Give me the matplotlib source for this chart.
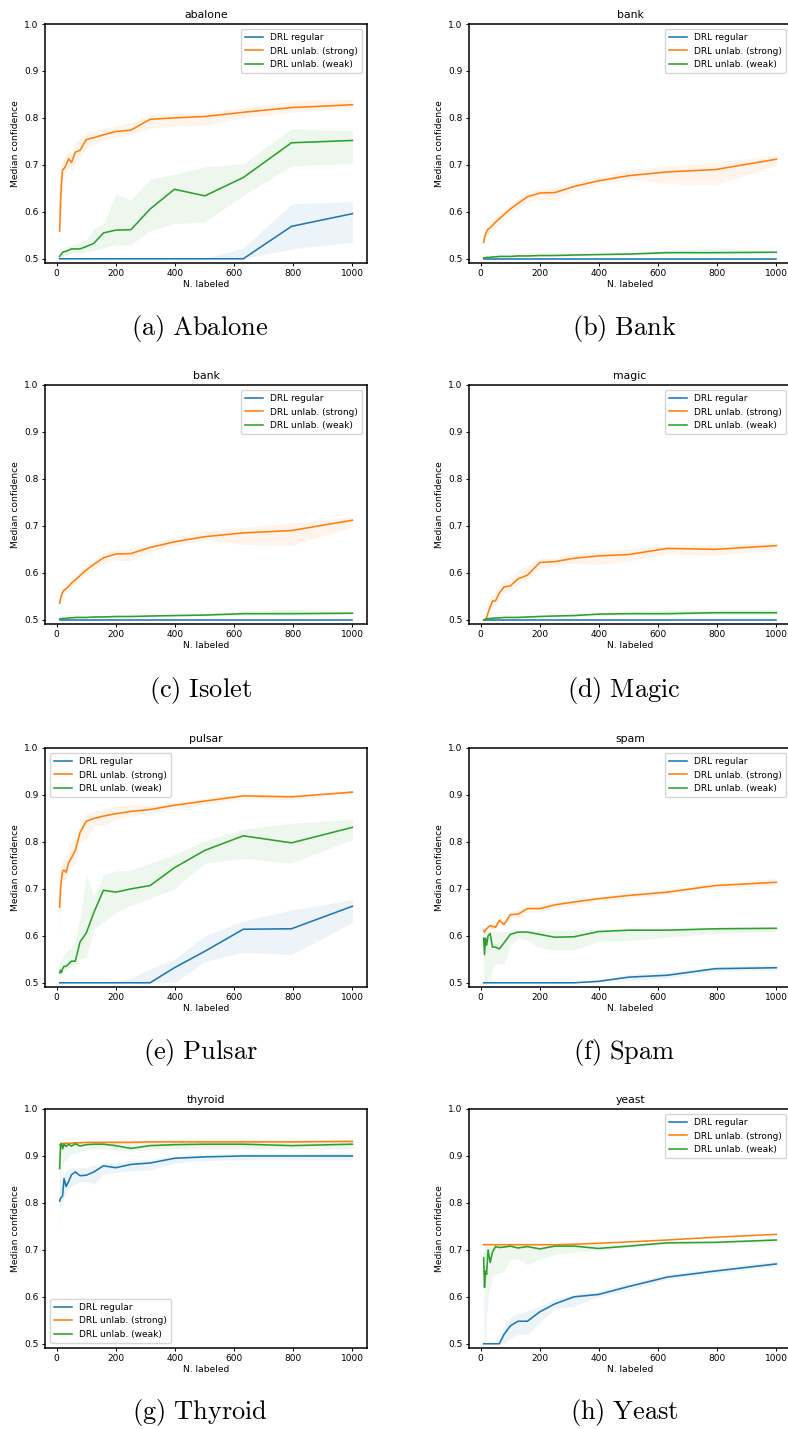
import numpy as np
import matplotlib
matplotlib.use('Agg')
import matplotlib.pyplot as plt

plt.rcParams['mathtext.fontset'] = 'cm'

n_labeled = [10, 13, 16, 20, 25, 32, 40, 50, 63, 79, 100, 126, 158, 200, 251, 316, 398, 501, 631, 794, 1000]
series_names = ['DRL regular', 'DRL unlab. (strong)', 'DRL unlab. (weak)']

# abalone
ab_reg = [.500, .500, .500, .500, .500, .500, .500, .500, .500, .500, .500, .500, .500, .500, .500, .500, .500, .500, .500, .569, .596]
ab_reg_lo = [.500, .500, .500, .500, .500, .500, .500, .500, .500, .500, .500, .500, .500, .500, .500, .500, .500, .500, .500, .521, .535]
ab_reg_hi = [.500, .500, .500, .500, .500, .500, .500, .500, .500, .500, .500, .500, .500, .500, .500, .500, .500, .501, .523, .617, .622]
ab_strong = [.559, .620, .660, .690, .692, .700, .713, .705, .727, .731, .754, .758, .764, .771, .774, .797, .800, .803, .812, .822, .828]
ab_strong_lo = [.530, .570, .620, .660, .672, .685, .695, .685, .705, .715, .735, .745, .752, .758, .765, .778, .782, .784, .800, .812, .820]
ab_strong_hi = [.580, .660, .700, .708, .715, .720, .730, .725, .750, .755, .770, .772, .778, .783, .790, .808, .810, .812, .822, .835, .840]
ab_weak = [.505, .508, .510, .514, .515, .516, .518, .521, .521, .521, .526, .533, .555, .561, .562, .606, .648, .634, .673, .747, .752]
ab_weak_lo = [.500, .502, .503, .505, .506, .507, .508, .510, .511, .512, .515, .518, .522, .530, .530, .560, .575, .578, .635, .697, .704]
ab_weak_hi = [.510, .514, .517, .520, .522, .524, .527, .530, .532, .535, .540, .565, .575, .638, .625, .670, .680, .696, .702, .777, .774]

# bank
bk_reg = [.500, .500, .500, .500, .500, .500, .500, .500, .500, .500, .500, .500, .500, .500, .500, .500, .500, .500, .500, .500, .500]
bk_strong = [.535, .545, .552, .558, .563, .566, .571, .578, .585, .594, .606, .618, .632, .640, .641, .654, .666, .677, .685, .690, .712]
bk_strong_lo = [.525, .535, .542, .548, .553, .557, .562, .568, .576, .585, .597, .607, .620, .627, .625, .645, .658, .670, .660, .658, .698]
bk_strong_hi = [.548, .556, .562, .568, .573, .576, .581, .588, .595, .604, .616, .628, .642, .650, .652, .663, .675, .690, .697, .706, .720]
bk_weak = [.502, .502, .502, .503, .503, .503, .504, .504, .505, .505, .505, .506, .506, .507, .507, .508, .509, .510, .513, .513, .514]
bk_weak_lo = [.501, .501, .501, .502, .502, .502, .503, .503, .503, .503, .503, .504, .504, .505, .505, .506, .507, .508, .510, .510, .512]
bk_weak_hi = [.503, .503, .503, .504, .504, .505, .505, .506, .506, .507, .507, .508, .508, .509, .509, .510, .511, .513, .518, .523, .515]

# magic
mg_reg = [.500, .500, .500, .500, .500, .500, .500, .500, .500, .500, .500, .500, .500, .500, .500, .500, .500, .500, .500, .500, .500]
mg_strong = [.500, .500, .502, .505, .515, .527, .540, .540, .557, .570, .572, .587, .595, .622, .624, .631, .636, .639, .652, .650, .658]
mg_strong_lo = [.498, .498, .499, .500, .505, .515, .528, .530, .545, .555, .560, .575, .585, .610, .615, .620, .617, .625, .640, .638, .648]
mg_strong_hi = [.502, .504, .508, .515, .530, .545, .552, .555, .570, .585, .590, .605, .615, .632, .632, .642, .645, .652, .660, .660, .665]
mg_weak = [.500, .500, .501, .502, .502, .503, .503, .504, .504, .505, .505, .505, .506, .507, .508, .509, .512, .513, .513, .515, .515]
mg_weak_lo = [.499, .499, .500, .500, .500, .501, .501, .502, .502, .503, .503, .503, .504, .505, .506, .507, .509, .510, .510, .511, .511]
mg_weak_hi = [.501, .501, .502, .503, .504, .505, .505, .506, .506, .507, .507, .508, .509, .510, .511, .512, .515, .517, .521, .521, .522]

# pulsar
pu_reg = [.500, .500, .500, .500, .500, .500, .500, .500, .500, .500, .500, .500, .500, .500, .500, .500, .532, .567, .614, .615, .663]
pu_reg_lo = [.500, .500, .500, .500, .500, .500, .500, .500, .500, .500, .500, .500, .500, .500, .500, .500, .500, .545, .565, .560, .628]
pu_reg_hi = [.500, .500, .500, .500, .500, .500, .500, .500, .500, .500, .500, .500, .500, .502, .510, .530, .550, .600, .632, .655, .677]
pu_strong = [.661, .700, .720, .738, .740, .735, .755, .766, .782, .820, .844, .850, .855, .860, .865, .869, .878, .887, .898, .896, .906]
pu_strong_lo = [.600, .660, .700, .715, .720, .720, .740, .750, .755, .800, .805, .835, .835, .848, .855, .860, .870, .880, .892, .890, .903]
pu_strong_hi = [.740, .755, .760, .765, .770, .760, .790, .800, .810, .840, .860, .865, .870, .875, .880, .878, .885, .893, .903, .900, .910]
pu_weak = [.521, .527, .522, .530, .535, .535, .540, .546, .546, .587, .606, .650, .697, .693, .700, .707, .745, .782, .813, .798, .831]
pu_weak_lo = [.510, .515, .515, .520, .525, .528, .530, .535, .535, .550, .555, .615, .630, .650, .665, .680, .700, .755, .765, .755, .805]
pu_weak_hi = [.545, .548, .550, .555, .560, .565, .570, .575, .590, .640, .730, .685, .730, .738, .740, .755, .773, .803, .827, .840, .848]

# spam
sp_reg = [.500, .500, .500, .500, .500, .500, .500, .500, .500, .500, .500, .500, .500, .500, .500, .500, .503, .512, .516, .530, .532]
sp_reg_lo = [.500, .500, .500, .500, .500, .500, .500, .500, .500, .500, .500, .500, .500, .500, .500, .500, .500, .505, .510, .525, .527]
sp_reg_hi = [.500, .500, .500, .500, .500, .500, .500, .500, .500, .500, .500, .500, .500, .500, .500, .501, .507, .518, .522, .535, .538]
sp_strong = [.611, .608, .612, .615, .618, .622, .620, .618, .633, .624, .645, .646, .658, .658, .666, .672, .679, .686, .693, .707, .714]
sp_strong_lo = [.606, .603, .606, .609, .612, .615, .614, .612, .625, .617, .638, .640, .650, .650, .660, .666, .673, .680, .688, .702, .707]
sp_strong_hi = [.616, .613, .618, .621, .624, .628, .626, .625, .640, .632, .652, .655, .667, .668, .672, .678, .685, .692, .699, .712, .722]
sp_weak = [.595, .560, .595, .580, .600, .605, .576, .576, .572, .585, .603, .608, .608, .603, .597, .598, .609, .612, .612, .615, .616]
sp_weak_lo = [.500, .500, .500, .500, .510, .500, .530, .540, .540, .540, .580, .595, .590, .575, .570, .570, .588, .590, .597, .605, .610]
sp_weak_hi = [.610, .610, .610, .610, .610, .610, .610, .610, .610, .610, .610, .612, .612, .612, .612, .613, .614, .615, .616, .618, .620]

# thyroid
th_reg = [.804, .810, .812, .815, .852, .835, .845, .860, .866, .858, .859, .866, .879, .875, .882, .885, .895, .898, .900, .900, .900]
th_reg_lo = [.790, .795, .800, .805, .815, .820, .830, .835, .840, .845, .845, .840, .860, .865, .868, .870, .885, .890, .892, .892, .892]
th_reg_hi = [.820, .835, .845, .860, .865, .870, .872, .875, .875, .875, .875, .880, .885, .885, .890, .893, .900, .903, .905, .906, .907]
th_strong = [.924, .925, .926, .926, .927, .927, .927, .927, .928, .928, .929, .929, .929, .929, .929, .930, .930, .930, .930, .930, .931]
th_strong_lo = [.921, .922, .923, .923, .924, .924, .924, .924, .925, .925, .926, .926, .926, .926, .926, .927, .927, .927, .927, .927, .928]
th_strong_hi = [.927, .928, .929, .929, .930, .930, .930, .930, .931, .931, .932, .932, .932, .932, .932, .933, .933, .933, .933, .933, .934]
th_weak = [.873, .922, .927, .915, .925, .920, .925, .921, .926, .921, .924, .925, .925, .922, .916, .922, .924, .925, .925, .922, .925]
th_weak_lo = [.740, .800, .880, .880, .890, .890, .900, .905, .905, .910, .912, .915, .915, .912, .910, .914, .915, .915, .915, .915, .915]
th_weak_hi = [.920, .928, .930, .930, .930, .930, .930, .930, .930, .930, .930, .930, .930, .930, .928, .930, .930, .930, .930, .930, .930]

# yeast
ye_reg = [.500, .500, .500, .500, .500, .500, .500, .500, .500, .520, .538, .548, .548, .568, .585, .600, .605, .622, .642, .655, .670]
ye_reg_lo = [.500, .500, .500, .500, .500, .500, .500, .500, .500, .500, .510, .520, .520, .545, .575, .580, .600, .615, .637, .650, .665]
ye_reg_hi = [.500, .500, .500, .500, .500, .500, .503, .505, .515, .540, .555, .565, .570, .580, .595, .605, .612, .630, .648, .661, .677]
ye_strong = [.711, .711, .711, .711, .711, .711, .711, .711, .711, .711, .711, .711, .711, .711, .711, .712, .714, .717, .721, .727, .733]
ye_weak = [.683, .620, .655, .648, .700, .673, .695, .707, .705, .706, .708, .704, .707, .702, .708, .708, .703, .708, .715, .716, .721]
ye_weak_lo = [.500, .500, .500, .560, .600, .620, .645, .648, .650, .655, .680, .680, .668, .680, .690, .695, .700, .705, .712, .713, .717]
ye_weak_hi = [.710, .710, .710, .711, .711, .711, .711, .711, .711, .711, .711, .711, .711, .711, .711, .712, .712, .714, .718, .720, .724]

panels = [
    ('abalone', r'$\mathrm{(a)\ Abalone}$', 'upper right',
     [(ab_reg, ab_reg_lo, ab_reg_hi), (ab_strong, ab_strong_lo, ab_strong_hi), (ab_weak, ab_weak_lo, ab_weak_hi)]),
    ('bank', r'$\mathrm{(b)\ Bank}$', 'upper right',
     [(bk_reg, bk_reg, bk_reg), (bk_strong, bk_strong_lo, bk_strong_hi), (bk_weak, bk_weak_lo, bk_weak_hi)]),
    ('bank', r'$\mathrm{(c)\ Isolet}$', 'upper right',
     [(bk_reg, bk_reg, bk_reg), (bk_strong, bk_strong_lo, bk_strong_hi), (bk_weak, bk_weak_lo, bk_weak_hi)]),
    ('magic', r'$\mathrm{(d)\ Magic}$', 'upper right',
     [(mg_reg, mg_reg, mg_reg), (mg_strong, mg_strong_lo, mg_strong_hi), (mg_weak, mg_weak_lo, mg_weak_hi)]),
    ('pulsar', r'$\mathrm{(e)\ Pulsar}$', 'upper left',
     [(pu_reg, pu_reg_lo, pu_reg_hi), (pu_strong, pu_strong_lo, pu_strong_hi), (pu_weak, pu_weak_lo, pu_weak_hi)]),
    ('spam', r'$\mathrm{(f)\ Spam}$', 'upper right',
     [(sp_reg, sp_reg_lo, sp_reg_hi), (sp_strong, sp_strong_lo, sp_strong_hi), (sp_weak, sp_weak_lo, sp_weak_hi)]),
    ('thyroid', r'$\mathrm{(g)\ Thyroid}$', 'lower left',
     [(th_reg, th_reg_lo, th_reg_hi), (th_strong, th_strong_lo, th_strong_hi), (th_weak, th_weak_lo, th_weak_hi)]),
    ('yeast', r'$\mathrm{(h)\ Yeast}$', 'upper right',
     [(ye_reg, ye_reg_lo, ye_reg_hi), (ye_strong, ye_strong, ye_strong), (ye_weak, ye_weak_lo, ye_weak_hi)]),
]

colors = ['#1f77b4', '#ff7f0e', '#2ca02c']

W, H = 788, 1429
fig = plt.figure(figsize=(W / 100, H / 100), dpi=100)

col_left = [45, 469]
ax_w = 322
row_top = [24, 385, 748, 1109]
ax_h = 239
cap_y = [328, 690, 1052, 1412]
cap_x = [200, 624]

for i, (title, caption, loc, series) in enumerate(panels):
    r, c = i // 2, i % 2
    ax = fig.add_axes([col_left[c] / W, 1 - (row_top[r] + ax_h) / H, ax_w / W, ax_h / H])
    for (mid, lo, hi), col, name in zip(series, colors, series_names):
        ax.fill_between(n_labeled, lo, hi, color=col, alpha=0.08, lw=0)
        ax.plot(n_labeled, mid, color=col, lw=1.15, label=name)
    ax.set_ylim(0.491, 1.0)
    ax.set_xlim(-39.5, 1049.5)
    ax.set_xticks([0, 200, 400, 600, 800, 1000])
    ax.set_yticks([0.5, 0.6, 0.7, 0.8, 0.9, 1.0])
    ax.tick_params(labelsize=6.5, length=2.5, width=0.7, pad=2)
    ax.set_title(title, fontsize=7.8, pad=4)
    ax.set_xlabel('N. labeled', fontsize=6.6, labelpad=1)
    ax.set_ylabel('Median confidence', fontsize=6.6, labelpad=3)
    for s in ax.spines.values():
        s.set_linewidth(1.1)
    ax.legend(loc=loc, fontsize=6.5, handlelength=2.0, borderaxespad=0.6)
    fig.text(cap_x[c] / W, 1 - cap_y[r] / H, caption, fontsize=19, ha='center', va='center')

plt.savefig('out.png', dpi=100)
